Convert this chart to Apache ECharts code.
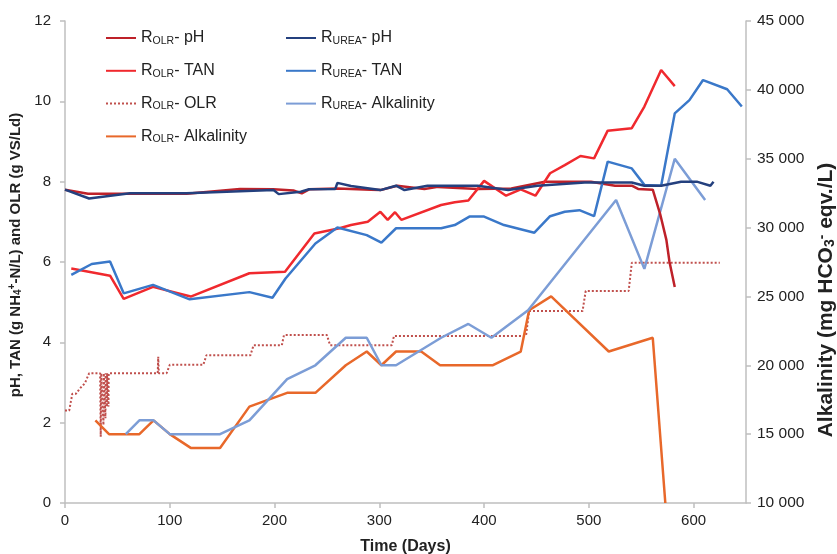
<!DOCTYPE html>
<html>
<head>
<meta charset="utf-8">
<script src="https://cdn.jsdelivr.net/npm/echarts@6/dist/echarts.min.js"></script>
<style>
html,body{margin:0;padding:0;background:#fff;}
#chart{width:837px;height:554px;}
</style>
</head>
<body>
<div id="chart"></div>
<script>
// ---- Data ----
const xTicks = [0, 100, 200, 300, 400, 500, 600];
const leftTicks = [0, 2, 4, 6, 8, 10, 12];
const rightTicks = [10000, 15000, 20000, 25000, 30000, 35000, 40000, 45000];

const olrPhDays = [0, 22, 62, 116, 167, 199, 218, 226, 233, 260, 292, 301, 317, 343, 356, 394, 426, 458, 502, 525, 541, 547, 561, 568, 574, 577, 582];
const olrPhVals = [7.8, 7.7, 7.7, 7.7, 7.82, 7.81, 7.78, 7.71, 7.81, 7.83, 7.8, 7.79, 7.9, 7.82, 7.87, 7.82, 7.83, 8.0, 8.0, 7.9, 7.9, 7.82, 7.8, 7.2, 6.55, 6.0, 5.38];

const olrTanDays = [6, 43, 56, 84, 120, 176, 210, 238, 262, 273, 289, 301, 308, 315, 321, 359, 372, 385, 400, 421, 435, 449, 463, 477, 492, 505, 518, 541, 553, 569, 582];
const olrTanVals = [5.84, 5.66, 5.08, 5.38, 5.14, 5.72, 5.76, 6.71, 6.84, 6.92, 7.0, 7.25, 7.05, 7.24, 7.05, 7.42, 7.49, 7.53, 8.02, 7.65, 7.81, 7.65, 8.21, 8.41, 8.64, 8.58, 9.27, 9.33, 9.87, 10.78, 10.38];

const olrOlrDays = [0, 4, 7, 10.5, 14.5, 19, 23, 33.5, 34.1, 34.6, 36.5, 36.7, 37, 38.4, 38.6, 38.8, 39.8, 40, 40.2, 41.3, 41.5, 41.7, 88.5, 89, 89.5, 97, 100, 132, 135, 177, 180, 207, 209, 250, 253, 312, 314, 440, 443, 494, 497, 538, 541, 625];
const olrOlrVals = [2.3, 2.3, 2.72, 2.72, 2.86, 2.98, 3.23, 3.23, 1.65, 3.23, 3.23, 1.94, 3.23, 3.23, 2.11, 3.23, 3.23, 2.4, 3.23, 3.23, 2.4, 3.23, 3.23, 3.64, 3.23, 3.23, 3.44, 3.44, 3.68, 3.68, 3.93, 3.93, 4.18, 4.18, 3.93, 3.93, 4.16, 4.16, 4.78, 4.78, 5.28, 5.28, 5.98, 5.98];

const olrAlkDays = [29, 42, 71, 84.5, 100, 120, 148, 176, 212, 239, 268, 288, 302, 316, 340, 358, 408, 435, 443, 464, 519, 561, 573];
const olrAlkVals = [16000, 15000, 15000, 16000, 15000, 14000, 14000, 17000, 18000, 18000, 20000, 21000, 20000, 21000, 21000, 20000, 20000, 21000, 24000, 25000, 21000, 22000, 10000];

const ureaPhDays = [0, 23, 62, 116, 199, 204, 225, 233, 258, 260, 273, 301, 316, 324, 346, 394, 423, 451, 496, 541, 553, 569, 588, 603, 616, 619];
const ureaPhVals = [7.8, 7.58, 7.71, 7.71, 7.79, 7.69, 7.75, 7.81, 7.82, 7.97, 7.89, 7.79, 7.9, 7.79, 7.9, 7.9, 7.79, 7.9, 7.98, 7.98, 7.9, 7.9, 8.0, 8.0, 7.9, 8.0];

const ureaTanDays = [6, 25.5, 43, 56, 84, 119, 176, 198, 210.5, 239, 260, 288, 302, 316, 359, 372, 386, 400, 419, 448, 463, 477, 491, 505, 518, 541, 553, 569, 582, 596, 609, 632, 646];
const ureaTanVals = [5.68, 5.95, 6.01, 5.22, 5.43, 5.07, 5.25, 5.11, 5.59, 6.46, 6.86, 6.67, 6.48, 6.84, 6.84, 6.92, 7.13, 7.13, 6.92, 6.73, 7.14, 7.25, 7.29, 7.14, 8.5, 8.33, 7.92, 7.9, 9.7, 10.03, 10.53, 10.3, 9.87];

const ureaAlkDays = [58, 71, 84.5, 100, 148, 176, 212, 239, 268, 288, 302, 316, 359, 385, 407, 442, 526, 553, 582, 611];
const ureaAlkVals = [15000, 16000, 16000, 15000, 15000, 16000, 19000, 20000, 22000, 22000, 20000, 20000, 22000, 23000, 22000, 24000, 32000, 27000, 35000, 32000];

const seriesNames = ['ROLR- pH', 'ROLR- TAN', 'ROLR- OLR', 'ROLR- Alkalinity', 'RUREA- pH', 'RUREA- TAN', 'RUREA- Alkalinity'];
const legendLabels = {
  'ROLR- pH': 'R{sub|OLR}- pH',
  'ROLR- TAN': 'R{sub|OLR}- TAN',
  'ROLR- OLR': 'R{sub|OLR}- OLR',
  'ROLR- Alkalinity': 'R{sub|OLR}- Alkalinity',
  'RUREA- pH': 'R{sub|UREA}- pH',
  'RUREA- TAN': 'R{sub|UREA}- TAN',
  'RUREA- Alkalinity': 'R{sub|UREA}- Alkalinity'
};

function pairs(xs, ys) { return xs.map((x, i) => [x, ys[i]]); }

const FONT = '"Liberation Sans", Arial, sans-serif';
const TXT = '#222';
const AX = '#BFBFBF';

function mk(name, days, vals, color, yIdx, type, z) {
  return {
    name: name, type: 'line', yAxisIndex: yIdx, data: pairs(days, vals),
    symbol: 'none', smooth: false, z: z,
    lineStyle: { color: color, width: type === 'dotted' ? 2 : 2.5, type: type || 'solid' },
    itemStyle: { color: color },
    emphasis: { disabled: true }
  };
}

const legendRich = {
  sub: { fontSize: 10.5, fontFamily: FONT, color: TXT, verticalAlign: 'bottom', padding: [6, 0, 0, 0] }
};

function legendCfg(names, left) {
  return {
    data: names, orient: 'vertical', left: left, top: 25,
    itemWidth: 30, itemHeight: 14, itemGap: 16.3,
    itemStyle: { opacity: 0 },
    textStyle: { fontSize: 16, color: TXT, fontFamily: FONT, rich: legendRich },
    formatter: n => legendLabels[n]
  };
}

const nameRich = {
  sub: { fontSize: 10, fontWeight: 'bold', color: TXT, fontFamily: FONT, verticalAlign: 'bottom', padding: [6, 0, 0, 0] },
  sup: { fontSize: 10, fontWeight: 'bold', color: TXT, fontFamily: FONT, verticalAlign: 'top', padding: [0, 0, 6, 0] }
};
const nameRichBig = {
  sub: { fontSize: 14, fontWeight: 'bold', color: TXT, fontFamily: FONT, verticalAlign: 'bottom', padding: [8, 0, 0, 0] },
  sup: { fontSize: 14, fontWeight: 'bold', color: TXT, fontFamily: FONT, verticalAlign: 'top', padding: [0, 0, 8, 0] }
};

const option = {
  animation: false,
  backgroundColor: '#fff',
  textStyle: { fontFamily: FONT },
  grid: { left: 65, right: 91, top: 21, bottom: 51, containLabel: false, outerBoundsMode: 'none' },
  legend: [legendCfg(seriesNames.slice(0, 4), 100), legendCfg(seriesNames.slice(4), 280)],
  xAxis: {
    type: 'value', min: 0, max: 650, interval: 100,
    name: 'Time (Days)', nameLocation: 'middle', nameGap: 36,
    nameTextStyle: { fontSize: 16, fontWeight: 'bold', color: TXT, fontFamily: FONT },
    axisLine: { show: true, lineStyle: { color: AX, width: 1.5 } },
    axisTick: { show: true, inside: false, length: 5, lineStyle: { color: AX, width: 1.5 } },
    axisLabel: { fontSize: 15, color: TXT, margin: 10, showMaxLabel: false, fontFamily: FONT },
    splitLine: { show: false }
  },
  yAxis: [
    {
      type: 'value', min: 0, max: 12, interval: 2, position: 'left',
      name: 'pH, TAN (g NH{sub|4}{sup|+}-N/L) and OLR (g VS/Ld)',
      nameLocation: 'middle', nameGap: 19, nameRotate: 90,
      nameTextStyle: {
        fontSize: 15, fontWeight: 'bold', color: TXT, fontFamily: FONT, padding: [0, 0, 0, 14],
        rich: nameRich
      },
      axisLine: { show: true, lineStyle: { color: AX, width: 1.5 } },
      axisTick: { show: true, inside: false, length: 5, lineStyle: { color: AX, width: 1.5 } },
      axisLabel: { fontSize: 15, color: TXT, margin: 14, fontFamily: FONT },
      splitLine: { show: false }
    },
    {
      type: 'value', min: 10000, max: 45000, interval: 5000, position: 'right',
      name: 'Alkalinity (mg HCO{sub|3}{sup|-} eqv./L)',
      nameLocation: 'middle', nameGap: 63, nameRotate: 90,
      nameTextStyle: {
        fontSize: 21, fontWeight: 'bold', color: TXT, fontFamily: FONT, padding: [0, 76, 0, 0],
        rich: nameRichBig
      },
      axisLine: { show: true, lineStyle: { color: AX, width: 1.5 } },
      axisTick: { show: true, inside: false, length: 5, lineStyle: { color: AX, width: 1.5 } },
      axisLabel: {
        fontSize: 15.5, color: TXT, margin: 11, fontFamily: FONT,
        formatter: v => String(v).replace(/\B(?=(\d{3})+(?!\d))/g, ' ')
      },
      splitLine: { show: false }
    }
  ],
  series: [
    mk(seriesNames[0], olrPhDays, olrPhVals, '#BE2129', 0, 'solid', 3),
    mk(seriesNames[1], olrTanDays, olrTanVals, '#F0292E', 0, 'solid', 3),
    mk(seriesNames[2], olrOlrDays, olrOlrVals, '#C0504D', 0, 'dotted', 2),
    mk(seriesNames[3], olrAlkDays, olrAlkVals, '#E8682A', 1, 'solid', 2),
    mk(seriesNames[4], ureaPhDays, ureaPhVals, '#24407E', 0, 'solid', 4),
    mk(seriesNames[5], ureaTanDays, ureaTanVals, '#3A78C9', 0, 'solid', 3),
    mk(seriesNames[6], ureaAlkDays, ureaAlkVals, '#7C9DD6', 1, 'solid', 2)
  ]
};

const chart = echarts.init(document.getElementById('chart'), null, { renderer: 'canvas' });
chart.setOption(option);
</script>
</body>
</html>
